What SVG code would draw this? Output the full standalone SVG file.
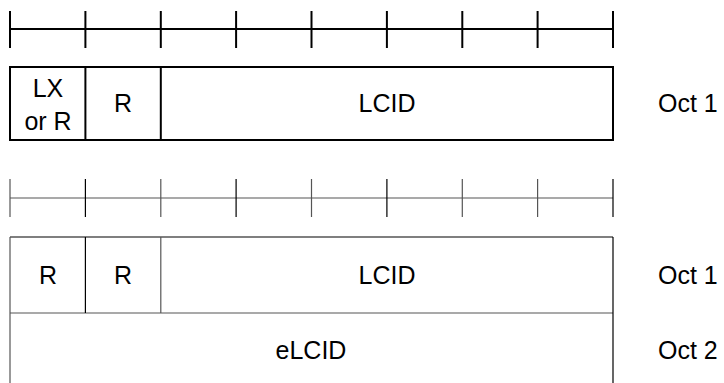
<svg xmlns="http://www.w3.org/2000/svg" width="724" height="383" viewBox="0 0 724 383">
<style>
text{font-family:"Liberation Sans",Arial,sans-serif;font-size:25px;fill:#000}
.c{text-anchor:middle}
.thick{stroke:#000;stroke-width:2;fill:none}
.thin{stroke:#000;stroke-width:1.2;fill:none}
.grey{stroke:#555;stroke-width:1.2;fill:none}
</style>
<rect width="724" height="383" fill="#fff"/>
<g id="ruler1" class="thick">
<line x1="10" y1="29" x2="613" y2="29"/>
<line x1="10" y1="11" x2="10" y2="48"/>
<line x1="85.4" y1="11" x2="85.4" y2="48"/>
<line x1="160.8" y1="11" x2="160.8" y2="48"/>
<line x1="236.1" y1="11" x2="236.1" y2="48"/>
<line x1="311.5" y1="11" x2="311.5" y2="48"/>
<line x1="386.9" y1="11" x2="386.9" y2="48"/>
<line x1="462.3" y1="11" x2="462.3" y2="48"/>
<line x1="537.6" y1="11" x2="537.6" y2="48"/>
<line x1="613" y1="11" x2="613" y2="48"/>
</g>
<g id="box1">
<rect x="10" y="67" width="603" height="73" class="thick"/>
<line x1="85.4" y1="67" x2="85.4" y2="140" class="thick"/>
<line x1="160.8" y1="67" x2="160.8" y2="140" class="thick"/>
<text x="48" y="97" class="c">LX</text>
<text x="48" y="130" class="c">or R</text>
<text x="123" y="112" class="c">R</text>
<text x="387" y="112" class="c">LCID</text>
<text x="658" y="112">Oct 1</text>
</g>
<g id="ruler2" class="grey">
<line x1="10" y1="198" x2="613" y2="198"/>
<line x1="10" y1="179" x2="10" y2="217"/>
<line x1="85.4" y1="179" x2="85.4" y2="217" class="thin"/>
<line x1="160.8" y1="179" x2="160.8" y2="217"/>
<line x1="236.1" y1="179" x2="236.1" y2="217" class="thin"/>
<line x1="311.5" y1="179" x2="311.5" y2="217"/>
<line x1="386.9" y1="179" x2="386.9" y2="217" class="thin"/>
<line x1="462.3" y1="179" x2="462.3" y2="217"/>
<line x1="537.6" y1="179" x2="537.6" y2="217"/>
<line x1="613" y1="179" x2="613" y2="217" class="thin"/>
</g>
<g id="box2">
<line x1="10" y1="237" x2="613" y2="237" class="thin"/>
<line x1="10" y1="313" x2="613" y2="313" class="grey"/>
<line x1="10" y1="237" x2="10" y2="383" class="grey"/>
<line x1="613" y1="237" x2="613" y2="383" class="thin"/>
<line x1="85.4" y1="237" x2="85.4" y2="313" class="thin"/>
<line x1="160.8" y1="237" x2="160.8" y2="313" class="grey"/>
<text x="48" y="284" class="c">R</text>
<text x="123" y="284" class="c">R</text>
<text x="387" y="284" class="c">LCID</text>
<text x="658" y="284">Oct 1</text>
<text x="311" y="359" class="c">eLCID</text>
<text x="658" y="359">Oct 2</text>
</g>
</svg>
